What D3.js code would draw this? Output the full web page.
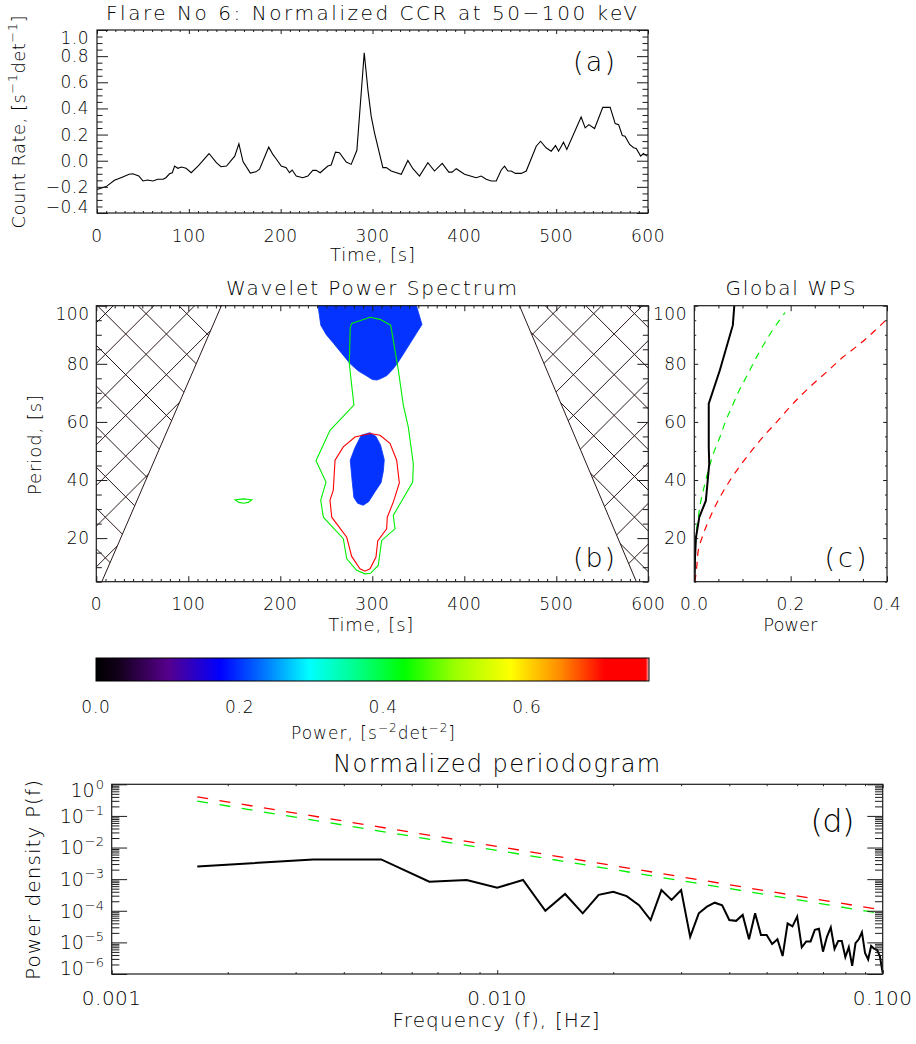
<!DOCTYPE html>
<html><head><meta charset="utf-8">
<script src="https://cdn.jsdelivr.net/npm/d3@7/dist/d3.min.js"></script>
<style>
html,body{margin:0;padding:0;background:#fff;}
svg{display:block;}
text{font-family:"DejaVu Sans","Liberation Sans",sans-serif;font-weight:200;fill:#000;}
</style></head><body>
<svg id="chart" width="916" height="1044" xmlns="http://www.w3.org/2000/svg"></svg>
<script>
// ================= DATA =================
// (a) normalized count rate
const ccrTime = [0,10,19,26,35,39,45.5,50,55,61,66,72,75,79,82,84.5,88,92,97,102.6,110,122,130,135,141,150,154.5,159,167,173,177,187,191.5,195,200.6,206,209.6,212.5,217,224,229.6,235,238.7,243,251.4,255,259.7,264,271.4,276.8,283,291,295,298.6,302.2,311.3,315,320.4,331.3,338.5,344,351.2,360.3,367.5,375.9,383.1,386.7,391.2,400.2,409.3,413,418.4,423.8,429.3,434.7,440.2,443.8,447.4,451,455.7,462,467.4,478.3,483,489,494.6,499.3,502.6,508,511.6,527.2,531.6,535.6,541.8,550.8,558.8,564.3,568,572,575,580,584.3,587.2,592,595,599];
const ccrRate = [-0.22,-0.198,-0.15,-0.13,-0.104,-0.10,-0.117,-0.155,-0.148,-0.155,-0.142,-0.142,-0.13,-0.10,-0.092,-0.041,-0.058,-0.048,-0.058,-0.092,-0.041,0.055,-0.015,-0.046,-0.041,0.035,0.129,-0.007,-0.095,-0.085,-0.065,0.104,0.048,0.015,-0.041,-0.053,-0.092,-0.071,-0.117,-0.130,-0.117,-0.074,-0.074,-0.092,-0.041,-0.033,0.066,0.061,-0.010,-0.028,0.08,0.826,0.542,0.339,0.213,-0.053,-0.053,-0.079,-0.104,0.002,-0.061,-0.117,-0.015,-0.079,-0.020,-0.087,-0.087,-0.061,-0.104,-0.122,-0.13,-0.117,-0.142,-0.155,-0.155,-0.071,-0.041,-0.079,-0.079,-0.097,-0.097,-0.079,0.111,0.149,0.099,0.073,0.116,0.073,0.142,0.086,0.334,0.251,0.276,0.246,0.408,0.408,0.284,0.276,0.193,0.188,0.124,0.099,0.094,0.035,0.055,0.035];

// (b) wavelet power spectrum: contour outlines [time, period]
const blueTop = [[241,100],[244,93.3],[250,90],[258,87],[267,83.5],[276,80],[285,77.5],[294,75.8],[300,74.6],[305,74.4],[310,75],[316,76],[322,78],[327,80],[334,83.5],[341,87],[348,90.5],[354,93.5],[348,100]];
const blueMid = [[297.5,56.3],[304,55],[309,52],[313,47],[312,43],[309.5,39.1],[303,36],[296,32.5],[290,31.3],[284,32],[280,34],[278,40],[276,46.8],[281,51],[288,55.4]];
const redContour = [[297.5,56],[308.4,55.4],[319.2,52.6],[326.5,46.8],[329.4,39],[322.8,32.4],[316.3,27.2],[315.6,23.2],[305.9,19],[304,13.5],[297.5,9.45],[292,8.6],[286.6,9.45],[277.6,13.7],[272.2,20.3],[255.9,27.2],[254,33],[257.6,36.5],[259.5,46.8],[268.5,51.4],[281.2,54.8]];
const greenContour = [[297.5,96],[308.4,95.3],[320,93.3],[328.3,77.8],[333.7,65.8],[339.1,58.3],[344.6,45.6],[343.9,39.3],[322.8,27.8],[324.7,23.2],[310.2,19.2],[306.5,10.6],[298,7.9],[292,7.7],[283,8.9],[272.2,12.9],[268.5,19.8],[246.8,27.2],[243.9,33],[249.7,39.3],[238.8,46.6],[254,57.1],[280,65.8],[275,80],[276,92.5],[277.6,93.9]];
const greenSmall = [[151,33.2],[160,33.5],[169,33.2],[165,32.3],[160,32.0],[155,32.3]];
const coiPeriod = [5,100];
const coiLeftTime = [6,136];
const coiRightTime = [587,460];

// (c) global wavelet power spectrum
const gwpsPeriod = [5,8,13.3,20.3,27.2,32.9,45.6,51.3,66.3,77.8,93.3,100];
const gwpsPower  = [0,0.001,0.0015,0.0035,0.0104,0.024,0.031,0.030,0.030,0.053,0.080,0.083];
const sigGreenPeriod = [5,13.5,21.5,27.2,33,38.8,44.5,49.7,54.8,60.6,65.8,70.9,76.1,81.3,86.4,92.8,97.6];
const sigGreenPower  = [0,0.0014,0.0035,0.0083,0.0139,0.0222,0.0311,0.0409,0.0533,0.0658,0.0797,0.0934,0.110,0.126,0.1432,0.1675,0.1883];
const sigRedPeriod = [5,11,15.8,21.4,28.4,34.1,41.6,47.9,54.3,60.6,66.4,72.1,77.2,82.4,86.4,95.1];
const sigRedPower  = [0.0015,0.0056,0.0083,0.0187,0.0361,0.0533,0.081,0.1088,0.140,0.1744,0.2055,0.2402,0.2748,0.3093,0.3404,0.398];

// colour bar
const cbStopPos = [0,0.04,0.13,0.225,0.30,0.386,0.47,0.557,0.65,0.75,0.84,0.92,0.994,1.0];
const cbStopCol = ['#000000','#12001a','#56008c','#0000ff','#0070ff','#00ffff','#00ff8c','#00ff00','#9cff00','#ffff00','#ff8a00','#ff0000','#ff0000','#ffc8c8'];
const cbTicks = [0,0.2,0.4,0.6];

// (d) periodogram
const pgFreq = [0.001667,0.003333,0.005,0.006667,0.008333,0.01,0.011667,0.013333,0.015,0.016667,0.018333,0.02,0.021667,0.023333,0.025,0.026667,0.028333,0.03,0.031667,0.033333,0.035,0.036667,0.038333,0.04,0.041667,0.043333,0.045,0.046667,0.048333,0.05,0.051667,0.053333,0.055,0.056667,0.058333,0.06,0.061667,0.063333,0.065,0.066667,0.068333,0.07,0.071667,0.073333,0.075,0.076667,0.078333,0.08,0.081667,0.083333,0.085,0.086667,0.088333,0.09,0.091667,0.093333,0.095,0.096667,0.098333,0.1];
const pgPower = [2.5e-3,4.2e-3,4.2e-3,8.3e-4,9.4e-4,5.4e-4,9.4e-4,1.0e-4,3.4e-4,8.3e-5,3.2e-4,4.0e-4,2.9e-4,1.5e-4,5.1e-5,4.5e-4,2.2e-4,4.5e-4,1.5e-5,8.3e-5,1.35e-4,1.8e-4,1.5e-4,5.1e-5,4.8e-5,7.4e-5,1.26e-5,8.3e-5,1.7e-5,1.7e-5,8.9e-6,1.26e-5,3.7e-6,4.0e-5,3.2e-5,6.5e-5,7.0e-6,1.07e-5,1.07e-5,2.5e-5,2.7e-5,5.1e-6,1.5e-5,3.0e-5,6.2e-6,1.1e-5,1.1e-5,3.4e-6,7.0e-6,1.8e-6,9.4e-6,1.25e-5,2.1e-5,4.6e-6,2.9e-6,7.7e-6,6.3e-6,5.8e-6,3.6e-6,1.06e-6];
const pgRedFreq = [0.001667,0.1], pgRedPower = [0.40,1.05e-4];
const pgGreenFreq = [0.001667,0.1], pgGreenPower = [0.295,8.0e-5];
const freqTicks = [0.001,0.01,0.1];
const freqTickLabels = ["0.001","0.010","0.100"];
const densityExp = [0,-1,-2,-3,-4,-5,-6];

// ================= DRAWING =================
const AX = '#1c1c1c';
const svg = d3.select('#chart');

function axisTicks(g, orient, scale, pos, values, len) {
  const maker = {bottom:d3.axisBottom, top:d3.axisTop, left:d3.axisLeft, right:d3.axisRight}[orient];
  const a = maker(scale).tickValues(values).tickSizeInner(-len).tickSizeOuter(0).tickFormat(() => '');
  const horiz = orient === 'bottom' || orient === 'top';
  const gg = g.append('g').attr('transform', horiz ? `translate(0,${pos})` : `translate(${pos},0)`).call(a);
  gg.select('.domain').remove();
  gg.selectAll('text').remove();
  gg.selectAll('line').attr('stroke', AX).attr('stroke-width', 1);
}
function frame(g, xs, ys, xMaj, xMin, yMaj, yMin, xLen, yLen) {
  const [x0, x1] = xs.range(); const [yb, yt] = ys.range();
  axisTicks(g, 'bottom', xs, yb, xMaj, xLen); axisTicks(g, 'top', xs, yt, xMaj, xLen);
  axisTicks(g, 'bottom', xs, yb, xMin, xLen/2); axisTicks(g, 'top', xs, yt, xMin, xLen/2);
  axisTicks(g, 'left', ys, x0, yMaj, yLen); axisTicks(g, 'right', ys, x1, yMaj, yLen);
  axisTicks(g, 'left', ys, x0, yMin, yLen/2); axisTicks(g, 'right', ys, x1, yMin, yLen/2);
  g.append('rect').attr('x', x0).attr('y', yt).attr('width', x1 - x0).attr('height', yb - yt)
    .attr('fill', 'none').attr('stroke', AX).attr('stroke-width', 1.2);
}
function label(g, x, y, str, size, anchor, len, ls) {
  const t = g.append('text').attr('x', x).attr('y', y).attr('font-size', size)
    .attr('text-anchor', anchor || 'middle').text(str);
  if (len) t.attr('textLength', len).attr('lengthAdjust', 'spacing');
  if (ls) t.attr('letter-spacing', ls);
  return t;
}
// rich text: parts = [[string, isSup], ...]
function rich(g, x, y, parts, size, supSize, anchor, len, rotate) {
  const t = g.append('text').attr('font-size', size).attr('text-anchor', anchor || 'middle');
  if (rotate) t.attr('transform', `translate(${x},${y}) rotate(-90)`);
  else t.attr('x', x).attr('y', y);
  let up = false;
  const shift = size * 0.42;
  parts.forEach(([s, sup]) => {
    const sp = t.append('tspan').text(s);
    if (sup && !up) { sp.attr('dy', -shift).attr('font-size', supSize); up = true; }
    else if (sup) { sp.attr('font-size', supSize); }
    else if (!sup && up) { sp.attr('dy', shift); up = false; }
  });
  if (len) t.attr('textLength', len).attr('lengthAdjust', 'spacing');
  return t;
}
function clampMid(v, top, bot) { return Math.max(top + 8, Math.min(bot - 6, v)); }

// ---------- Panel (a) ----------
const xA = d3.scaleLinear().domain([0, 600]).range([97, 648]);
const yA = d3.scaleLinear().domain([-0.4, 1.0]).range([213, 30]);
const gA = svg.append('g');
gA.append('path').datum(ccrTime.map((t, i) => [t, ccrRate[i]]))
  .attr('fill', 'none').attr('stroke', '#000').attr('stroke-width', 1.1)
  .attr('d', d3.line().x(d => xA(d[0])).y(d => yA(d[1])));
const timeMaj = [0,100,200,300,400,500,600];
const timeMin = d3.range(0, 601, 10).filter(v => v % 100 !== 0);
const rateMaj = [-0.4,-0.2,0,0.2,0.4,0.6,0.8,1.0];
const rateMin = d3.range(-0.4, 1.0001, 0.05).filter(v => Math.abs(Math.round(v / 0.2) * 0.2 - v) > 1e-6);
frame(gA, xA, yA, timeMaj, timeMin, rateMaj, rateMin, 4, 11);
timeMaj.forEach(v => label(gA, xA(v), 242, String(v), 17, 'middle', null, 0.5));
const fmt1 = d3.format('.1f');
rateMaj.forEach(v => label(gA, 89, clampMid(yA(v), 30, 213) + 6, fmt1(v), 17, 'end', null, 0.5));
label(gA, 371.5, 20, 'Flare No 6: Normalized CCR at 50\u2212100 keV', 20, 'middle', 531);
label(gA, 372.5, 261, 'Time, [s]', 18, 'middle', 85);
rich(gA, 25, 122, [['Count Rate, [s', false], ['\u22121', true], ['det', false], ['\u22121', true], [']', false]], 18, 13, 'middle', 213, true);
label(gA, 594, 71, '(a)', 27, 'middle', 42);

// ---------- Panel (b) ----------
const xB = d3.scaleLinear().domain([0, 600]).range([96.3, 648.3]);
const yB = d3.scaleLinear().domain([5, 100]).range([581.7, 305.7]);
const gB = svg.append('g');
const defs = svg.append('defs');
const coiLeftPoly = [[0, coiPeriod[0]], [coiLeftTime[0], coiPeriod[0]], [coiLeftTime[1], coiPeriod[1]], [0, coiPeriod[1]]];
const coiRightPoly = [[coiRightTime[0], coiPeriod[0]], [600, coiPeriod[0]], [600, coiPeriod[1]], [coiRightTime[1], coiPeriod[1]]];
const polyLine = d3.line().x(d => xB(d[0])).y(d => yB(d[1])).curve(d3.curveLinearClosed);
const clip = defs.append('clipPath').attr('id', 'coiClip');
clip.append('path').attr('d', polyLine(coiLeftPoly));
clip.append('path').attr('d', polyLine(coiRightPoly));
// cross hatching (style: pixel spacing)
const hatchStep = 40.7, hatchA = -208.3, hatchB = 459.7;
const yTop = yB(100), yBot = yB(5);
const hatchG = gB.append('g').attr('clip-path', 'url(#coiClip)');
const hatchLines = [];
for (let k = -20; k <= 25; k++) {
  const cA = hatchA + k * hatchStep, cB = hatchB + k * hatchStep;
  hatchLines.push([[cA + yTop, yTop], [cA + yBot, yBot]]);
  hatchLines.push([[cB - yTop, yTop], [cB - yBot, yBot]]);
}
hatchG.selectAll('line').data(hatchLines).join('line')
  .attr('x1', d => d[0][0]).attr('y1', d => d[0][1]).attr('x2', d => d[1][0]).attr('y2', d => d[1][1])
  .attr('stroke', '#2a1818').attr('stroke-width', 1);
[coiLeftTime, coiRightTime].forEach(ct => {
  gB.append('path').datum(ct.map((t, i) => [t, coiPeriod[i]]))
    .attr('fill', 'none').attr('stroke', '#2a1818').attr('stroke-width', 1)
    .attr('d', d3.line().x(d => xB(d[0])).y(d => yB(d[1])));
});
const BLUE = '#0433ff';
[blueTop, blueMid].forEach(p => gB.append('path').attr('d', polyLine(p)).attr('fill', BLUE).attr('stroke', BLUE).attr('stroke-width', 0.8));
gB.append('path').attr('d', polyLine(redContour)).attr('fill', 'none').attr('stroke', '#ff0000').attr('stroke-width', 1.1);
[greenContour, greenSmall].forEach(p => gB.append('path').attr('d', polyLine(p)).attr('fill', 'none').attr('stroke', '#00ee00').attr('stroke-width', 1.1));
const perMaj = [20, 40, 60, 80, 100];
const perMin = d3.range(5, 101, 5).filter(v => v % 20 !== 0);
frame(gB, xB, yB, timeMaj, timeMin, perMaj, perMin, 5.5, 11);
timeMaj.forEach(v => label(gB, xB(v), 610, String(v), 17, 'middle', null, 0.5));
perMaj.forEach(v => label(gB, 89.5, clampMid(yB(v), 305.7, 581.7) + 6, String(v), 17, 'end', null, 0.5));
label(gB, 371.5, 295, 'Wavelet Power Spectrum', 20, 'middle', 291);
label(gB, 370.8, 631, 'Time, [s]', 18, 'middle', 85);
label(gB, 0, 0, 'Period, [s]', 18, 'middle', 100).attr('transform', 'translate(41,445) rotate(-90)');
label(gB, 594, 567, '(b)', 27, 'middle', 42);

// ---------- Panel (c) ----------
const xC = d3.scaleLinear().domain([0, 0.4]).range([694.3, 887]);
const gC = svg.append('g');
const clipC = defs.append('clipPath').attr('id', 'clipC');
clipC.append('rect').attr('x', 694.3).attr('y', 305.7).attr('width', 887 - 694.3).attr('height', 276);
const gCc = gC.append('g').attr('clip-path', 'url(#clipC)');
const lineC = d3.line().x(d => xC(d[0])).y(d => yB(d[1])).curve(d3.curveMonotoneY);
gCc.append('path').datum(sigGreenPower.map((p, i) => [p, sigGreenPeriod[i]]))
  .attr('fill', 'none').attr('stroke', '#00ee00').attr('stroke-width', 1.2).attr('stroke-dasharray', '7,6').attr('d', lineC);
gCc.append('path').datum(sigRedPower.map((p, i) => [p, sigRedPeriod[i]]))
  .attr('fill', 'none').attr('stroke', '#ff0000').attr('stroke-width', 1.2).attr('stroke-dasharray', '7,6').attr('d', lineC);
gCc.append('path').datum(gwpsPower.map((p, i) => [p, gwpsPeriod[i]]))
  .attr('fill', 'none').attr('stroke', '#000').attr('stroke-width', 2)
  .attr('d', d3.line().x(d => xC(d[0])).y(d => yB(d[1])));
const powMaj = [0, 0.2, 0.4];
const powMin = [0.05, 0.1, 0.15, 0.25, 0.3, 0.35];
frame(gC, xC, yB, powMaj, powMin, perMaj, perMin, 5.5, 3.9);
powMaj.forEach(v => label(gC, xC(v), 610, fmt1(v), 17, 'middle', null, 0.5));
perMaj.forEach(v => label(gC, 687, clampMid(yB(v), 305.7, 581.7) + 6, String(v), 17, 'end', null, 0.5));
label(gC, 790.5, 295, 'Global WPS', 20, 'middle', 130);
label(gC, 790.3, 631, 'Power', 18, 'middle', 54);
label(gC, 845.5, 567, '(c)', 27, 'middle', 42);

// ---------- Colour bar ----------
const cb = d3.scaleLinear().domain([0, 0.77]).range([96, 649]);
const grad = defs.append('linearGradient').attr('id', 'cbGrad').attr('x1', 0).attr('x2', 1).attr('y1', 0).attr('y2', 0);
cbStopPos.forEach((p, i) => grad.append('stop').attr('offset', p).attr('stop-color', cbStopCol[i]));
const gCB = svg.append('g');
gCB.append('rect').attr('x', cb(0)).attr('y', 658).attr('width', cb(0.77) - cb(0)).attr('height', 23)
  .attr('fill', 'url(#cbGrad)').attr('stroke', '#000').attr('stroke-width', 1);
cbTicks.forEach(v => label(gCB, cb(v), 713, fmt1(v), 17, 'middle', null, 0.8));
rich(gCB, 373, 739, [['Power, [s', false], ['\u22122', true], ['det', false], ['\u22122', true], [']', false]], 17, 12, 'middle', 164, false);

// ---------- Panel (d) ----------
const xD = d3.scaleLog().domain([0.001, 0.1]).range([111.7, 882.7]);
const yD = d3.scaleLog().domain([1e-6, 1]).range([974, 784.3]);
const gD = svg.append('g');
const lineD = d3.line().x(d => xD(d[0])).y(d => yD(d[1]));
gD.append('path').datum(pgRedFreq.map((f, i) => [f, pgRedPower[i]]))
  .attr('fill', 'none').attr('stroke', '#ff0000').attr('stroke-width', 1.3).attr('stroke-dasharray', '11,11.5').attr('d', lineD);
gD.append('path').datum(pgGreenFreq.map((f, i) => [f, pgGreenPower[i]]))
  .attr('fill', 'none').attr('stroke', '#00ee00').attr('stroke-width', 1.3).attr('stroke-dasharray', '11,11.5').attr('d', lineD);
gD.append('path').datum(pgFreq.map((f, i) => [f, pgPower[i]]))
  .attr('fill', 'none').attr('stroke', '#000').attr('stroke-width', 2).attr('stroke-linejoin', 'miter').attr('d', lineD);
const fAll = xD.ticks();
const fMaj = fAll.filter(v => Math.abs(Math.log10(v) - Math.round(Math.log10(v))) < 1e-9);
const fMin = fAll.filter(v => !fMaj.includes(v));
const pAll = yD.ticks();
const pMaj = pAll.filter(v => Math.abs(Math.log10(v) - Math.round(Math.log10(v))) < 1e-9);
const pMin = pAll.filter(v => !pMaj.includes(v));
frame(gD, xD, yD, fMaj, fMin, pMaj, pMin, 3.8, 15.4);
freqTicks.forEach((v, i) => label(gD, xD(v), 1005, freqTickLabels[i], 20, 'middle', null, 0.5));
densityExp.forEach(e => {
  let yc = clampMid(yD(Math.pow(10, e)), 784.3, 974);
  if (e === 0) yc -= 2;
  const t = gD.append('text').attr('x', 104).attr('y', yc + 6.8).attr('font-size', 19).attr('text-anchor', 'end');
  t.append('tspan').text('10');
  t.append('tspan').attr('dy', -8).attr('font-size', 13).attr('dx', 1).text(e === 0 ? '0' : '\u2212' + Math.abs(e));
});
label(gD, 496.7, 772, 'Normalized periodogram', 24, 'middle', 327);
label(gD, 496, 1027, 'Frequency (f), [Hz]', 20, 'middle', 207);
label(gD, 0, 0, 'Power density P(f)', 20, 'middle', 200).attr('transform', 'translate(40,880) rotate(-90)');
label(gD, 832.5, 832, '(d)', 32, 'middle', 44);
</script>
</body></html>
